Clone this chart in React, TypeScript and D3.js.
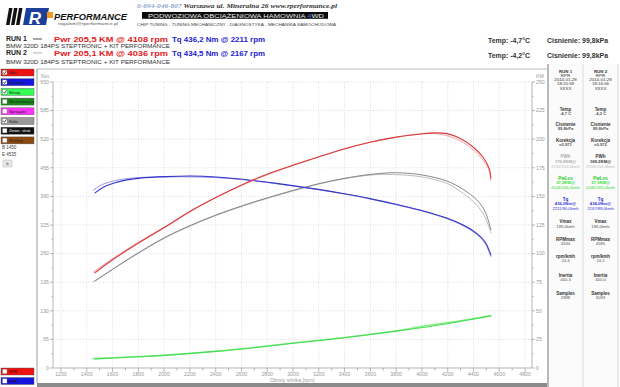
import * as d3 from "d3";

// axis ticks
const xTicks = [1200, 1400, 1600, 1800, 2000, 2200, 2400, 2600, 2800, 3000, 3200, 3400, 3600, 3800, 4000, 4200, 4400, 4600, 4800];
const xMinor = [1300, 1500, 1700, 1900, 2100, 2300, 2500, 2700, 2900, 3100, 3300, 3500, 3700, 3900, 4100, 4300, 4500, 4700];
const nmTicks = [0, 65, 130, 195, 260, 325, 390, 455, 520, 585, 650];
const kmTicks = [0, 25, 50, 75, 100, 125, 150, 175, 200, 225, 250];

// run 1 / run 2 engine power (KM)
const rpmPwr1 = [1464, 1606, 1761, 2012, 2211, 2408, 2610, 2808, 3008, 3196, 3398, 3597, 3799, 3998, 4108, 4192, 4295, 4399, 4476, 4523, 4535];
const pwr1 = [83.3, 95, 106.5, 123.5, 137.5, 149.5, 160.5, 169.8, 177.6, 184.5, 191.5, 197.3, 201.8, 204.6, 205.5, 204.9, 200.8, 193, 184, 174, 166];
const rpmPwr2 = [1450, 1606, 1761, 2012, 2211, 2408, 2610, 2808, 3008, 3196, 3398, 3597, 3799, 3950, 4036, 4150, 4295, 4399, 4476, 4523, 4535];
const pwr2 = [83.8, 96, 107.2, 124, 137.8, 149.3, 160, 169.2, 177.2, 184.4, 191.7, 197.2, 201.6, 204.4, 205.1, 204.2, 198.8, 190.5, 181.5, 172, 164];

// torque (Nm)
const rpmTq1 = [1464, 1528, 1606, 1700, 1813, 2012, 2211, 2408, 2610, 2808, 3008, 3196, 3398, 3597, 3799, 3998, 4192, 4321, 4425, 4489, 4535];
const tq1 = [398, 411, 420, 427, 431.5, 435, 436.2, 434, 429, 422, 414, 406, 396, 385, 372, 358, 341, 325, 306, 287, 257];
const rpmTq2 = [1450, 1520, 1606, 1700, 1813, 2012, 2167, 2408, 2610, 2808, 3008, 3196, 3398, 3597, 3799, 3998, 4192, 4321, 4425, 4489, 4535];
const tq2 = [404, 417, 425, 430, 433, 434.3, 434.5, 432.5, 428, 421, 413.5, 405.5, 395.5, 384.5, 371, 357, 339.5, 323, 303.5, 284, 253];

// wheel power (KM)
const rpmWh1 = [1464, 1761, 2012, 2211, 2408, 2610, 2808, 3008, 3196, 3398, 3597, 3742, 3850, 3998, 4192, 4321, 4425, 4489, 4535];
const wh1 = [76, 98, 114.5, 125, 134, 142, 149, 155.5, 161, 165.8, 169.2, 170.6, 170.5, 168.8, 163.5, 156, 147, 137, 121];
const rpmWh2 = [1450, 1761, 2012, 2211, 2408, 2610, 2808, 3008, 3196, 3398, 3597, 3708, 3850, 3998, 4192, 4321, 4425, 4489, 4535];
const wh2 = [75.5, 97.5, 114, 124.5, 133.5, 141.5, 148.5, 155, 160.7, 165.4, 168.6, 169.2, 168.8, 167, 161.5, 152.5, 142.5, 132, 118];

// losses (KM)
const rpmLoss1 = [1464, 1800, 2000, 2400, 2800, 3000, 3400, 3800, 4108, 4300, 4535];
const loss1 = [8, 9.8, 11, 14.5, 19, 21.6, 26.5, 32.2, 37.2, 40.8, 45.5];
const rpmLoss2 = [1450, 1800, 2000, 2400, 2800, 3000, 3400, 3800, 4036, 4300, 4535];
const loss2 = [8.2, 10, 11.2, 14.7, 19.2, 21.8, 26.7, 32.4, 37.1, 41.2, 45.8];

// left legend
const legendNames = ["Moc", "Moment", "Straty", "Normalizacja", "Sprzęgło", "Koła", "Zewn. strat", "Poślizg"];
const legendColors = ["#ee1111", "#1515e0", "#33ff55", "#1a8a1a", "#ff33ff", "#999999", "#111111", "#8b4a10"];
const legendChecked = [true, true, true, false, false, true, false, false];

// right info panel
const infoHead1 = ["RUN 1", "RPR", "2014-01-28", "18:20:59", "XXXX"];
const infoHead2 = ["RUN 2", "RPR", "2014-01-28", "18:16:06", "XXXX"];
const infoLabels = ["Temp", "Cisnienie", "Korekcja", "PWh", "PwLos", "Tq", "Vmax", "RPMmax", "rpm/kmh", "Inertia", "Samples"];
const infoVal1 = [["-4,7 C"], ["99,8kPa"], ["x0,971"], ["170,9KM@", "3742/153,0kmh"], ["37,2KM@", "4108/166,0kmh"], ["436,0Nm@", "2211/90,0kmh"], ["185,0kmh"], ["4534"], ["24,4"], ["440,3"], ["2898"]];
const infoVal2 = [["-4,2 C"], ["99,8kPa"], ["x0,972"], ["169,2KM@", "3708/154,0kmh"], ["37,1KM@", "4036/165,0kmh"], ["434,0Nm@", "2167/89,0kmh"], ["186,0kmh"], ["4585"], ["24,2"], ["440,0"], ["3093"]];

const FONT = "'Liberation Sans', Arial, sans-serif";

const x = d3.scaleLinear().domain([1138, 4854]).range([53, 532]);
const yNm = d3.scaleLinear().domain([0, 650]).range([368, 82]);
const yKm = d3.scaleLinear().domain([0, 250]).range([368, 82]);

const makePath = (rpm: number[], vals: number[], y: d3.ScaleLinear<number, number>) =>
  d3
    .line<number>()
    .x((_, i) => x(rpm[i]))
    .y((d) => y(d))
    .curve(d3.curveCatmullRom.alpha(0.5))(vals) || "";

const InfoPanel = () => {
  const labelY = [109, 124, 140, 156.7, 178.3, 199, 221.7, 239, 256, 275, 293.3];
  const cols = [565.5, 600.5];
  const headY = [71, 75.2, 79.4, 83.6, 88.5];
  return (
    <g fontFamily={FONT} textAnchor="middle">
      {[infoHead1, infoHead2].map((h, c) =>
        h.map((t, i) => (
          <text key={`h${c}${i}`} x={cols[c]} y={headY[i] + 1.6} fontSize={4.4} fontWeight={i === 0 ? "bold" : "normal"} fill="#333">
            {t}
          </text>
        ))
      )}
      {infoLabels.map((lab, i) =>
        cols.map((cx, c) => {
          const vals = c === 0 ? infoVal1[i] : infoVal2[i];
          let labFill = "#333";
          let valFill = "#555";
          if (lab === "PWh") {
            labFill = c === 0 ? "#aaa" : "#333";
            valFill = c === 0 ? "#aaa" : "#333";
          }
          if (lab === "PwLos") {
            labFill = "#22cc22";
            valFill = "#33dd33";
          }
          if (lab === "Tq") {
            labFill = "#2222cc";
            valFill = "#3333dd";
          }
          return (
            <g key={`l${i}${c}`}>
              <text x={cx} y={labelY[i] + 1.6} fontSize={4.5} fontWeight="bold" fill={labFill}>
                {lab}
              </text>
              {vals.map((v, k) => (
                <text
                  key={k}
                  x={cx}
                  y={labelY[i] + 6 + k * 4.8}
                  fontSize={4.2}
                  fontWeight={k === 0 && (lab === "PWh" || lab === "PwLos" || lab === "Tq" || i < 3) ? "bold" : "normal"}
                  fill={k === 1 ? (lab === "PWh" ? "#bbb" : valFill) : valFill}
                >
                  {v}
                </text>
              ))}
            </g>
          );
        })
      )}
    </g>
  );
};

export default function App() {
  return (
    <svg width={620} height={387} style={{ position: "absolute", left: 0, top: 0, background: "#fff" }}>
      {/* logo */}
      <g>
        {[6, 11, 16].map((bx) => (
          <polygon key={bx} points={`${bx + 3},8 ${bx + 6.5},8 ${bx + 3.5},25 ${bx},25`} fill="#111" />
        ))}
        <polygon points="26,8 49,8 46,25 23,25" fill="#1c3f9a" />
        <text x={35} y={23.5} fontFamily={FONT} fontWeight="bold" fontStyle="italic" fontSize={17} fill="#fff" textAnchor="middle">
          R
        </text>
        <rect x={47} y={12} width={6} height={6} fill="#f39a1e" />
        <text x={54} y={19.5} fontFamily={FONT} fontWeight="bold" fontStyle="italic" fontSize={9} textLength={73} lengthAdjust="spacingAndGlyphs" fill="#111">
          PERFORMANCE
        </text>
        <text x={58} y={25.3} fontFamily={FONT} fontSize={4.3} textLength={60} lengthAdjust="spacingAndGlyphs" fill="#555">
          rogalotti@rperformance.pl
        </text>
      </g>
      {/* top address */}
      <text x={137} y={7.8} fontFamily="'Liberation Serif', serif" fontStyle="italic" fontWeight="bold" fontSize={6.2} textLength={200} lengthAdjust="spacingAndGlyphs">
        <tspan fill="#8fa8cc">0-694-046-807 </tspan>
        <tspan fill="#333">Warszawa ul. Mineralna 26 </tspan>
        <tspan fill="#333">  www.rperformance.pl</tspan>
      </text>
      <rect x={142} y={12} width={186} height={6.8} fill="#0a0a0a" />
      <text x={148} y={17.6} fontFamily={FONT} fontSize={5.6} textLength={176} lengthAdjust="spacingAndGlyphs" fill="#e8e8e8">
        PODWOZIOWA OBCIĄŻENIOWA HAMOWNIA <tspan fill="#4a6fd0">4</tspan>WD
      </text>
      <text x={137} y={25.5} fontFamily={FONT} fontSize={3.8} textLength={199} lengthAdjust="spacingAndGlyphs" fill="#444">
        CHIP TUNING - TUNING MECHANICZNY - DIAGNOSTYKA - MECHANIKA SAMOCHODOWA
      </text>

      {/* run headers */}
      <g fontFamily={FONT}>
        <text x={6} y={41.4} fontSize={7} fontWeight="bold" fill="#222">RUN 1</text>
        <line x1={33} x2={42} y1={39} y2={39} stroke="#222" strokeWidth={0.8} />
        <text x={54} y={41.8} fontSize={8} fontWeight="bold" fill="#e02020" textLength={114} lengthAdjust="spacingAndGlyphs">Pwr  205,5 KM @ 4108 rpm</text>
        <text x={172} y={41.8} fontSize={8} fontWeight="bold" fill="#2222cc" textLength={93} lengthAdjust="spacingAndGlyphs">Tq 436,2 Nm @ 2211 rpm</text>
        <text x={6} y={47.6} fontSize={5.8} fill="#333" textLength={164} lengthAdjust="spacingAndGlyphs">BMW 320D 184PS STEPTRONIC + KIT PERFORMANCE</text>
        <text x={6} y={55.4} fontSize={7} fontWeight="bold" fill="#222">RUN 2</text>
        <line x1={33} x2={42} y1={52.9} y2={52.9} stroke="#999" strokeWidth={0.8} />
        <text x={54} y={56} fontSize={8} fontWeight="bold" fill="#e02020" textLength={114} lengthAdjust="spacingAndGlyphs">Pwr  205,1 KM @ 4036 rpm</text>
        <text x={172} y={56} fontSize={8} fontWeight="bold" fill="#2222cc" textLength={93} lengthAdjust="spacingAndGlyphs">Tq 434,5 Nm @ 2167 rpm</text>
        <text x={6} y={64.3} fontSize={5.8} fill="#333" textLength={164} lengthAdjust="spacingAndGlyphs">BMW 320D 184PS STEPTRONIC + KIT PERFORMANCE</text>
        <text x={488} y={42.5} fontSize={7} fontWeight="bold" fill="#333" textLength={42} lengthAdjust="spacingAndGlyphs">Temp: -4,7°C</text>
        <text x={547} y={42.5} fontSize={7} fontWeight="bold" fill="#333" textLength={61} lengthAdjust="spacingAndGlyphs">Cisnienie: 99,8kPa</text>
        <text x={488} y={57.5} fontSize={7} fontWeight="bold" fill="#333" textLength={42} lengthAdjust="spacingAndGlyphs">Temp: -4,2°C</text>
        <text x={547} y={57.5} fontSize={7} fontWeight="bold" fill="#333" textLength={61} lengthAdjust="spacingAndGlyphs">Cisnienie: 99,8kPa</text>
      </g>

      {/* left legend */}
      <g fontFamily={FONT}>
        {legendNames.map((n, i) => {
          const by = 69 + i * 9.7;
          return (
            <g key={n}>
              <rect x={1} y={by} width={33} height={7} fill={legendColors[i]} stroke="#555" strokeWidth={0.4} />
              <rect x={2.5} y={by + 1.2} width={4.5} height={4.5} fill="#fff" stroke="#666" strokeWidth={0.3} />
              {legendChecked[i] && <path d={`M3.3,${by + 3.4} L4.5,${by + 4.8} L6.4,${by + 1.8}`} stroke="#111" strokeWidth={0.7} fill="none" />}
              <text x={9} y={by + 5.2} fontSize={4.3} fill={i === 6 ? "#fff" : "#222"}>{n}</text>
            </g>
          );
        })}
        <text x={2} y={148.5} fontSize={4.5} fill="#444">B 1450</text>
        <text x={2} y={156} fontSize={4.5} fill="#444">E 4535</text>
        <rect x={3} y={160} width={9} height={7} fill="#e8e8e8" stroke="#aaa" strokeWidth={0.4} />
        <text x={7.5} y={165.2} fontSize={4.3} textAnchor="middle" fill="#444">b</text>
        {["#ee1111", "#1515e0"].map((c, i) => (
          <g key={c}>
            <rect x={1} y={368 + i * 9.5} width={33} height={7} fill={c} stroke="#555" strokeWidth={0.4} />
            <rect x={2.5} y={369.2 + i * 9.5} width={4.5} height={4.5} fill="#fff" stroke="#666" strokeWidth={0.3} />
            <text x={9} y={373.2 + i * 9.5} fontSize={4} fill="#300">RPR</text>
          </g>
        ))}
      </g>

      {/* chart panel frame */}
      <line x1={37} x2={547} y1={69} y2={69} stroke="#aaa" strokeWidth={0.8} />
      <line x1={37} x2={37} y1={69} y2={383} stroke="#999" strokeWidth={1} />
      <rect x={37} y={383} width={510} height={4} fill="#8a8a8a" />

      {/* right panel */}
      <rect x={548} y={64} width={72} height={323} fill="#fbfbfb" />
      <line x1={548} x2={548} y1={64} y2={387} stroke="#777" strokeWidth={1} />
      <line x1={583} x2={583} y1={64} y2={387} stroke="#d5d5d5" strokeWidth={0.8} />
      <line x1={618} x2={618} y1={64} y2={387} stroke="#d5d5d5" strokeWidth={0.8} />
      <InfoPanel />

      {/* grid */}
      <g stroke="#c8c8c8" strokeWidth={0.6} strokeDasharray="1,1.5">
        {xTicks.map((t) => (
          <line key={t} x1={x(t)} x2={x(t)} y1={82} y2={368} />
        ))}
        {nmTicks.slice(1).map((t) => (
          <line key={t} x1={53} x2={532} y1={yNm(t)} y2={yNm(t)} />
        ))}
      </g>

      {/* axes */}
      <g stroke="#999" strokeWidth={0.7}>
        <line x1={53} x2={532} y1={368} y2={368} />
        <line x1={53} x2={53} y1={82} y2={368} />
        <line x1={532} x2={532} y1={82} y2={368} />
        {xTicks.map((t) => (
          <line key={t} x1={x(t)} x2={x(t)} y1={368} y2={372} />
        ))}
        {xMinor.map((t) => (
          <line key={t} x1={x(t)} x2={x(t)} y1={368} y2={370.5} />
        ))}
        {nmTicks.map((t) => (
          <line key={t} x1={50} x2={53} y1={yNm(t)} y2={yNm(t)} />
        ))}
        {nmTicks.slice(1).map((t) => (
          <line key={`m${t}`} x1={51.5} x2={53} y1={yNm(t - 32.5)} y2={yNm(t - 32.5)} />
        ))}
        {kmTicks.map((t) => (
          <line key={t} x1={532} x2={535} y1={yKm(t)} y2={yKm(t)} />
        ))}
        {kmTicks.slice(1).map((t) => (
          <line key={`m${t}`} x1={532} x2={533.5} y1={yKm(t - 12.5)} y2={yKm(t - 12.5)} />
        ))}
      </g>
      <g fontFamily={FONT} fontSize={5.2} fill="#999">
        {xTicks.map((t) => (
          <text key={t} x={x(t)} y={376} textAnchor="middle">{t}</text>
        ))}
        {nmTicks.map((t) => (
          <text key={t} x={49} y={yNm(t) + 1.8} textAnchor="end">{t}</text>
        ))}
        {kmTicks.map((t) => (
          <text key={t} x={536} y={yKm(t) + 1.8}>{t}</text>
        ))}
        <text x={45} y={77.5} textAnchor="middle">Nm</text>
        <text x={540} y={77.5} textAnchor="middle">KM</text>
        <text x={292} y={382} textAnchor="middle">Obroty silnika [rpm]</text>
      </g>

      {/* curves */}
      <g fill="none" strokeLinejoin="round" strokeLinecap="round">
        <path d={makePath(rpmLoss2, loss2, yKm)} stroke="#8af08a" strokeWidth={1.6} />
        <path d={makePath(rpmLoss1, loss1, yKm)} stroke="#44dd55" strokeWidth={1.1} />
        <path d={makePath(rpmWh2, wh2, yKm)} stroke="#b4b4b4" strokeWidth={0.9} />
        <path d={makePath(rpmWh1, wh1, yKm)} stroke="#7a7a7a" strokeWidth={0.9} />
        <path d={makePath(rpmTq2, tq2, yNm)} stroke="#8c8ce0" strokeWidth={0.9} />
        <path d={makePath(rpmTq1, tq1, yNm)} stroke="#3535c8" strokeWidth={1.1} />
        <path d={makePath(rpmPwr2, pwr2, yKm)} stroke="#ee9a9a" strokeWidth={0.9} />
        <path d={makePath(rpmPwr1, pwr1, yKm)} stroke="#d83a3a" strokeWidth={1.1} />
      </g>
    </svg>
  );
}
